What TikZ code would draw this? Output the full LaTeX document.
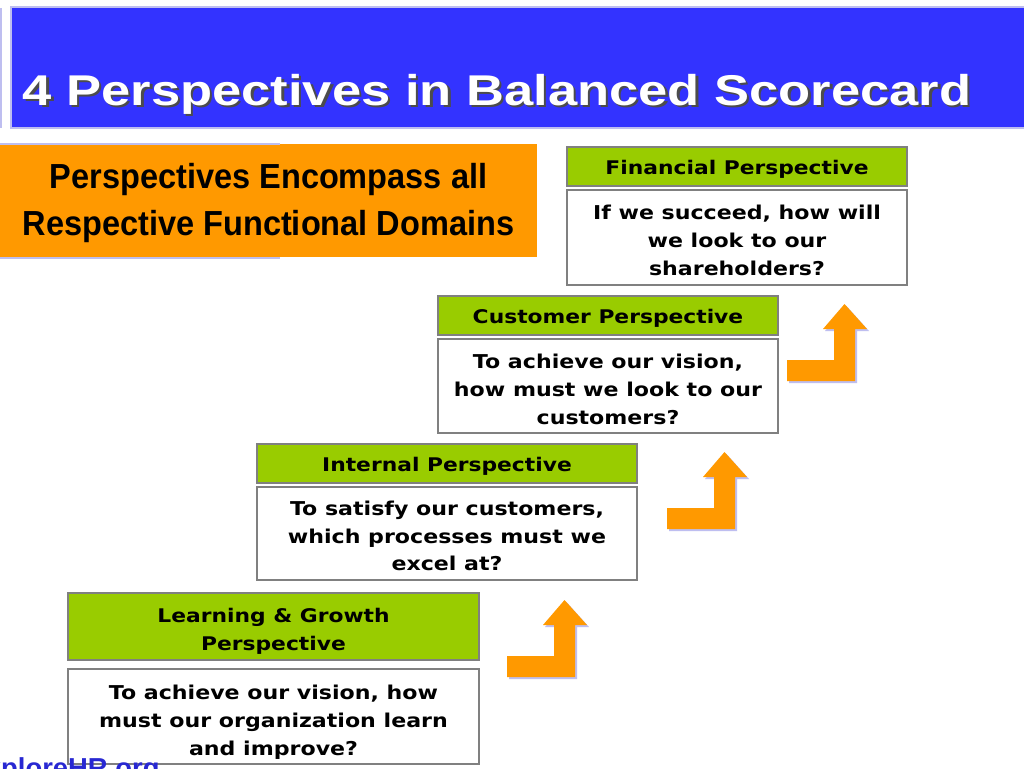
\documentclass[tikz,border=0pt]{standalone}
\usepackage{fontspec}
\setmainfont{Liberation Sans}
\newfontfamily\verdfont[FakeStretch=1.16]{DejaVu Sans}
\newfontfamily\narrowfont[FakeStretch=0.935]{Liberation Sans}
\newfontfamily\widefont[FakeStretch=1.22]{Liberation Sans}
\usetikzlibrary{positioning}

\definecolor{titleblue}{RGB}{51,51,255}
\definecolor{lavender}{RGB}{190,190,240}
\definecolor{notebg}{RGB}{255,153,0}
\definecolor{headgreen}{RGB}{153,204,0}
\definecolor{boxgray}{RGB}{128,128,128}
\definecolor{siteblue}{RGB}{40,40,210}

\tikzset{every picture/.style={line width=0.75pt}}
\tikzset{
  head/.style={draw=boxgray, fill=headgreen, line width=1.1pt, inner sep=0pt, outer sep=0pt,
    align=center, font=\verdfont\bfseries\fontsize{10.7pt}{15.9pt}\selectfont},
  body/.style={draw=boxgray, fill=white, line width=1.1pt, inner sep=0pt, outer sep=0pt,
    align=center, font=\verdfont\bfseries\fontsize{10.85pt}{15.9pt}\selectfont},
  stair/.style={fill=notebg},
}

\begin{document}
\begin{tikzpicture}[x=0.02cm, y=-0.02cm]
    \clip (0,0) rectangle (1024,768);
    \fill[white] (0,0) rectangle (1024,768);
    % title bar
    \draw[lavender, line width=1pt] (1,8) -- (1,128);
    \draw[lavender, fill=titleblue, line width=1pt] (11,7) rectangle (1030,128);
    \node[anchor=base west, inner sep=0pt, text=black!70, font=\widefont\bfseries\fontsize{24.5pt}{28pt}\selectfont] at (24.5,107.5) {4 Perspectives in Balanced Scorecard};
    \node[anchor=base west, inner sep=0pt, text=white, font=\widefont\bfseries\fontsize{24.5pt}{28pt}\selectfont] (title) at (22,105) {4 Perspectives in Balanced Scorecard};
    % orange note
    \fill[notebg] (0,144) rectangle (537,257);
    \draw[lavender] (0,144) -- (280,144);
    \draw[lavender] (0,258) -- (280,258);
    \node[align=center, font=\narrowfont\bfseries\fontsize{19.8pt}{27.2pt}\selectfont] (note) at (268.5,203) {Perspectives Encompass all\\Respective Functional Domains};
    % stair arrows
    \foreach \ax/\ay in {507/677, 667/529, 787/381} {
        \fill[lavender] (\ax+2,\ay+2) -- ++(68,0) -- ++(0,-52) -- ++(12,0) -- ++(-22.5,-25) -- ++(-21.5,25) -- ++(11,0) -- ++(0,31) -- ++(-47,0) -- cycle;
        \fill[stair] (\ax,\ay) -- ++(68,0) -- ++(0,-52) -- ++(12,0) -- ++(-22.5,-25) -- ++(-21.5,25) -- ++(11,0) -- ++(0,31) -- ++(-47,0) -- cycle;
    }
    % perspectives
    \node[head, minimum width=6.8cm, minimum height=0.78cm] (fin-head) at (737,166.5) {\rule{0pt}{11.5pt}Financial Perspective};
    \node[body, minimum width=6.8cm, minimum height=1.9cm, below=0.08cm of fin-head] (fin-body) {\rule{0pt}{12pt}If we succeed, how will\\we look to our\\shareholders?};
    \node[head, minimum width=6.8cm, minimum height=0.78cm] (cus-head) at (608,315.5) {\rule{0pt}{11.5pt}Customer Perspective};
    \node[body, minimum width=6.8cm, minimum height=1.88cm, below=0.08cm of cus-head] (cus-body) {\rule{0pt}{12pt}To achieve our vision,\\how must we look to our\\customers?};
    \node[head, minimum width=7.6cm, minimum height=0.78cm] (int-head) at (447,463.5) {\rule{0pt}{11.5pt}Internal Perspective};
    \node[body, minimum width=7.6cm, minimum height=1.86cm, below=0.08cm of int-head] (int-body) {\rule{0pt}{11pt}To satisfy our customers,\\which processes must we\\excel at?};
    \node[head, minimum width=8.22cm, minimum height=1.34cm] (lrn-head) at (273.5,626.5) {\rule{0pt}{14pt}Learning \& Growth\\Perspective};
    \node[body, minimum width=8.22cm, minimum height=1.9cm, below=0.18cm of lrn-head] (lrn-body) {\rule{0pt}{15pt}To achieve our vision, how\\must our organization learn\\and improve?};
    % site mark
    \node[anchor=base west, inner sep=0pt, text=siteblue, font=\bfseries\fontsize{15.6pt}{18pt}\selectfont] (site) at (-33,777) {ExploreHR.org};
\end{tikzpicture}
\end{document}
